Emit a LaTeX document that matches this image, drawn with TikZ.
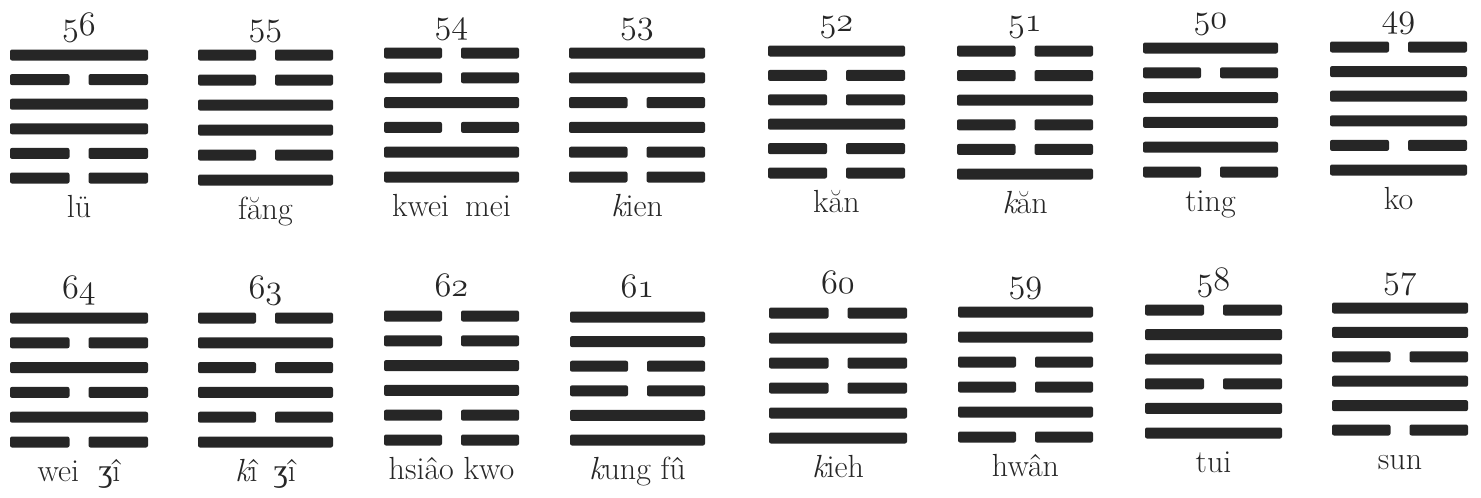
\documentclass[tikz,border=0pt]{standalone}
\usepackage{fontspec}
\newfontfamily\ezhfont{Liberation Serif}
\newcommand\osfnum[1]{\scalebox{1.38}{\usefont{OML}{cmm}{m}{it}\fontsize{24.88}{28}\selectfont#1}}
\tikzset{
  barline/.style={fill=black!85, rounded corners=2pt},
  numlabel/.style={anchor=base, inner sep=0pt, text=black!85},
  namelabel/.style={anchor=base, inner sep=0pt, text=black!85, font=\fontsize{32}{38}\selectfont},
}
% #1 name, #2 x1, #3 x2, #4 ytop, #5 ybot, #6 pattern (top to bottom), #7 number, #8 label
\newcommand\hexagram[8]{%
  \foreach \v [count=\i from 0] in {#6}{
    \pgfmathsetmacro\yy{#4+\i*(#5-#4)/5}
    \pgfmathsetmacro\xm{(#2+#3)/2}
    \ifnum\v=1
      \fill[barline] (#2,\yy-5.5) rectangle (#3,\yy+5.5);
    \else
      \fill[barline] (#2,\yy-5.5) rectangle (\xm-9.5,\yy+5.5);
      \fill[barline] (\xm+9.5,\yy-5.5) rectangle (#3,\yy+5.5);
    \fi
  }
  \node[numlabel] (#1num) at ({(#2+#3)/2},#4-20) {\osfnum{#7}};
  \node[namelabel] (#1name) at ({(#2+#3)/2},#5+39) {#8};
}
\begin{document}
\begin{tikzpicture}[x=1pt,y=-1pt]
\useasboundingbox (0,0) rectangle (1481,498);
% row 1
\hexagram{h56}{10}{148}{55}{178}{1,0,1,1,0,0}{56}{lü}
\hexagram{h55}{198}{333}{55}{180}{0,0,1,1,0,1}{55}{făng}
\hexagram{h54}{384}{519}{53}{177}{0,0,1,0,1,1}{54}{kwei\hspace{0.5em}mei}
\hexagram{h53}{569}{705}{53}{177}{1,1,0,1,0,0}{53}{{\itshape k}ien}
\hexagram{h52}{768}{905}{51}{173}{1,0,0,1,0,0}{52}{kăn}
\hexagram{h51}{957}{1093}{51}{174}{0,0,1,0,0,1}{51}{{\itshape k}ăn}
\hexagram{h50}{1143}{1278}{48}{172}{1,0,1,1,1,0}{50}{ting}
\hexagram{h49}{1330}{1467}{47}{170}{0,1,1,1,0,1}{49}{ko}
% row 2
\hexagram{h64}{10}{148}{318}{442}{1,0,1,0,1,0}{64}{wei\hspace{0.6em}{\ezhfont ʒ}î}
\hexagram{h63}{198}{333}{318}{442}{0,1,0,1,0,1}{63}{{\itshape k}î\hspace{0.5em}{\ezhfont ʒ}î}
\hexagram{h62}{384}{519}{316}{440}{0,0,1,1,0,0}{62}{hsiâo kwo}
\hexagram{h61}{570}{705}{317}{440}{1,1,0,0,1,1}{61}{{\itshape k}ung fû}
\hexagram{h60}{769}{907}{313}{438}{0,1,0,0,1,1}{60}{{\itshape k}ieh}
\hexagram{h59}{958}{1093}{312}{437}{1,1,0,0,1,0}{59}{hwân}
\hexagram{h58}{1145}{1282}{310}{433}{0,1,1,0,1,1}{58}{tui}
\hexagram{h57}{1332}{1468}{308}{430}{1,1,0,1,1,0}{57}{sun}
\end{tikzpicture}
\end{document}
